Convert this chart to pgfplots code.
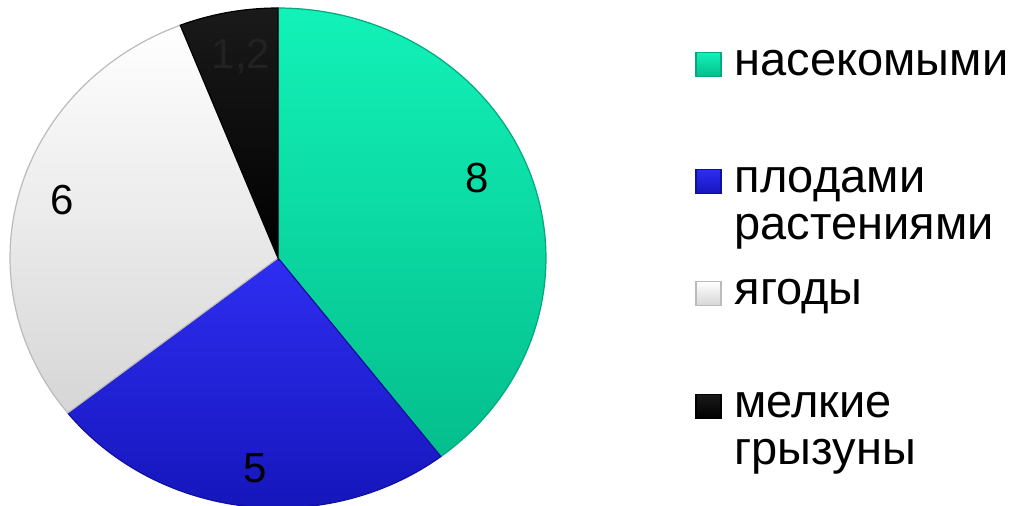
\documentclass[border=0pt]{standalone}
\usepackage{pgfplots}
\pgfplotsset{compat=1.18}
\usepackage{fontspec}
\setmainfont{Liberation Sans}
\definecolor{gT}{HTML}{12F2B8}
\definecolor{gB}{HTML}{04BE8C}
\definecolor{gE}{HTML}{03A87C}
\definecolor{bT}{HTML}{2E2EF2}
\definecolor{bB}{HTML}{1616BC}
\definecolor{bE}{HTML}{1010A0}
\definecolor{wT}{HTML}{FFFFFF}
\definecolor{wB}{HTML}{D6D6D6}
\definecolor{wE}{HTML}{BBBBBB}
\definecolor{kT}{HTML}{1A1A1A}
\definecolor{kB}{HTML}{000000}
\definecolor{lblK}{HTML}{222222}
% data
\def\vA{8}
\def\vB{5}
\def\vC{6}
\def\vD{1.2}
\pgfmathsetmacro\total{\vA+\vB+\vC+\vD}
\pgfmathsetmacro\aA{90-360*\vA/\total}
\pgfmathsetmacro\aB{\aA-360*\vB/\total}
\pgfmathsetmacro\aC{\aB-360*\vC/\total}
\pgfmathsetmacro\aD{\aC-360*\vD/\total}
\begin{document}
\begin{tikzpicture}
\begin{axis}[
  scale only axis, width=507pt, height=252.5pt,
  xmin=-1.0373, xmax=2.7463, ymin=-0.988, ymax=1.032,
  hide axis, clip=false,
  legend cell align=left,
  legend image code/.code={\path[#1] (0pt,-6pt) rectangle (12.5pt,6pt);},
  legend style={at={(axis cs:1.556,0.86)}, anchor=north west, draw=none, fill=none,
    inner sep=0pt, row sep=0pt, column sep=6.5pt,
    font=\fontsize{23.5}{23.5}\selectfont,
    nodes={inner sep=0pt, text depth={}},
    cells={align=left}},
]
\addplot[shade, top color=gT, bottom color=gB, draw=gE, line width=0.6pt, domain=\aA:90, samples=100,
  legend image post style={yshift=0.5pt}]
  ({cos(x)},{sin(x)}) -- (axis cs:0,0) -- cycle;
\addlegendentry{\rule[-6pt]{0pt}{22pt}насекомыми}
\addplot[shade, top color=bT, bottom color=bB, draw=bE, line width=0.6pt, domain=\aB:\aA, samples=100,
  legend image post style={yshift=-6pt}]
  ({cos(x)},{sin(x)}) -- (axis cs:0,0) -- cycle;
\addlegendentry{\rule{0pt}{52.5pt}плодами\\растениями\rule[-6pt]{0pt}{6pt}}
\addplot[shade, top color=wT, bottom color=wB, draw=wE, line width=0.6pt, domain=\aC:\aB, samples=100,
  legend image post style={yshift=-4.75pt}]
  ({cos(x)},{sin(x)}) -- (axis cs:0,0) -- cycle;
\addlegendentry{\rule[-6pt]{0pt}{32.5pt}ягоды}
\addplot[shade, top color=kT, bottom color=kB, draw=black, line width=0.6pt, domain=\aD:\aC, samples=60,
  legend image post style={yshift=-5pt}]
  ({cos(x)},{sin(x)}) -- (axis cs:0,0) -- cycle;
\addlegendentry{\rule{0pt}{50.5pt}мелкие\\грызуны\rule[-6pt]{0pt}{6pt}}
\node[font=\fontsize{21}{24}\selectfont] at (axis cs:0.743,0.32) {8};
\node[font=\fontsize{21}{24}\selectfont] at (axis cs:-0.086,-0.84) {5};
\node[font=\fontsize{21}{24}\selectfont] at (axis cs:-0.806,0.232) {6};
\node[font=\fontsize{21}{24}\selectfont, text=lblK] at (axis cs:-0.138,0.804) {1,2};
\end{axis}
\pgfresetboundingbox
\useasboundingbox (current axis.south west) rectangle (current axis.north east);
\end{tikzpicture}
\end{document}
